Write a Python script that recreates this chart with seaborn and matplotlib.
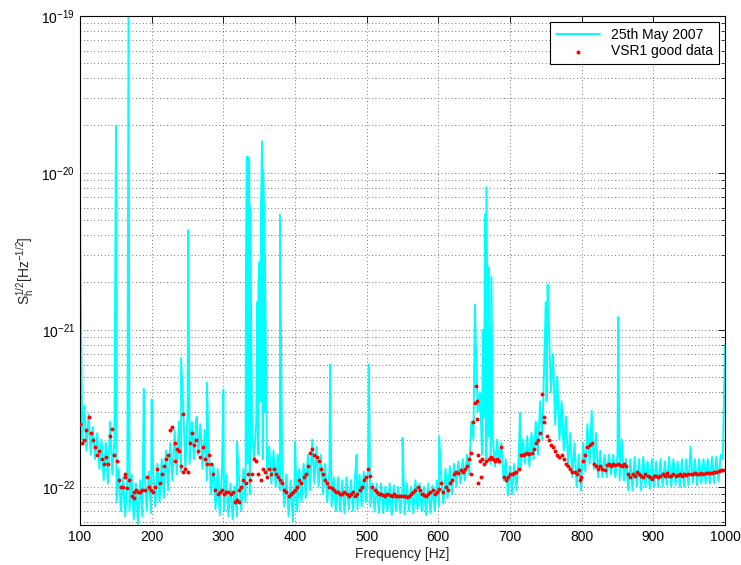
import numpy as np
import pandas as pd
import matplotlib
matplotlib.use("Agg")
import matplotlib.pyplot as plt
import matplotlib.ticker as mticker
import seaborn as sns


SCALE = 1e-22

# sampling grid of the spectrum (Hz), every 3 Hz
FREQ = np.arange(100, 1001, 3)

# 25th May 2007 spectrum, in units of 1e-22 /sqrt(Hz) (one row = 30 Hz)
CYAN_VALUES = [
    58, 2.0, 3.3, 1.7, 2.9, 1.6, 2.4, 1.5, 2.2, 1.3,
    2.0, 1.1, 1.9, 1.05, 2.6, 1.2, 2.0, 0.8, 1.3, 0.7,
    1.15, 0.65, 1.1, 0.7, 1.2, 0.62, 1.05, 0.58, 1.1, 0.65,
    1.3, 0.7, 1.25, 0.68, 1.3, 0.75, 1.4, 0.8, 1.5, 0.85,
    1.7, 0.95, 1.9, 1.1, 2.3, 1.2, 2.6, 1.25, 3.2, 1.3,
    2.8, 1.4, 2.6, 1.5, 2.7, 1.6, 2.5, 1.3, 2.3, 1.1,
    1.6, 0.9, 1.4, 0.72, 1.3, 0.66, 1.25, 0.7, 1.2, 0.65,
    1.05, 0.62, 1.0, 0.65, 1.1, 0.7, 1.3, 0.8, 1.4, 0.9,
    2.3, 1.5, 2.6, 1.6, 3.5, 1.5, 3.0, 1.2, 1.8, 1.05,
    1.7, 1.0, 1.6, 0.95, 1.4, 0.75, 1.2, 0.65, 1.1, 0.6,
    1.3, 0.7, 1.3, 0.8, 1.4, 0.85, 1.6, 0.95, 2.0, 1.05,
    1.8, 1.0, 1.6, 0.9, 1.4, 0.8, 1.25, 0.75, 1.15, 0.7,
    1.15, 0.7, 1.1, 0.68, 1.15, 0.72, 1.1, 0.7, 1.2, 0.72,
    1.2, 0.75, 1.25, 0.8, 1.3, 0.75, 1.05, 0.7, 1.05, 0.68,
    1.05, 0.68, 1.0, 0.7, 1.05, 0.66, 1.02, 0.7, 1.0, 0.68,
    1.0, 0.67, 1.05, 0.7, 1.0, 0.68, 1.1, 0.72, 1.05, 0.7,
    1.0, 0.66, 1.05, 0.68, 1.02, 0.7, 1.1, 0.75, 1.15, 0.78,
    1.3, 0.85, 1.35, 0.9, 1.4, 1.0, 1.45, 1.05, 1.5, 1.1,
    1.6, 1.2, 2.6, 2.0, 9.0, 3.0, 4.0, 1.6, 2.8, 1.5,
    2.1, 1.4, 2.0, 1.35, 2.0, 1.4, 1.9, 1.1, 1.5, 0.88,
    1.35, 0.9, 1.4, 0.95, 1.5, 1.3, 2.0, 1.4, 2.1, 1.35,
    2.2, 1.5, 2.6, 1.6, 3.5, 2.0, 7.0, 3.5, 12.0, 4.0,
    7.0, 2.5, 5.0, 2.0, 3.5, 1.7, 2.8, 1.4, 2.2, 1.15,
    1.9, 1.0, 1.6, 0.95, 1.9, 1.25, 2.5, 1.4, 3.0, 1.3,
    2.2, 1.15, 1.7, 1.15, 1.6, 1.15, 1.6, 1.2, 1.6, 1.15,
    1.6, 1.1, 2.0, 1.1, 1.5, 0.95, 1.5, 0.95, 1.55, 1.0,
    1.5, 0.95, 1.55, 1.0, 1.45, 0.97, 1.5, 1.0, 1.45, 1.0,
    1.5, 1.0, 1.45, 1.02, 1.55, 1.0, 1.5, 1.03, 1.45, 1.0,
    1.5, 1.0, 1.5, 1.02, 1.8, 1.05, 1.5, 1.02, 1.5, 1.05,
    1.5, 1.05, 1.5, 1.05, 1.55, 1.05, 1.55, 1.08, 1.6, 1.5,
    8.0,
]

# narrow lines sticking out of the spectrum
SPIKE_FREQ = [150.2, 167.7, 189, 200, 241, 251, 263, 277, 300, 319,
              331.5, 332.6, 333.5, 334.5, 336, 337.5, 347, 349, 350.5, 352.5,
              354, 355.5, 356.7, 358, 379, 400, 449, 486, 503, 550,
              601, 651, 662, 665, 667, 670, 674, 714, 750, 752.5,
              814, 851]
SPIKE_VALUES = [200, 1100, 4.2, 3.6, 6.6, 43, 2.8, 4.6, 4.1, 1.95,
                25, 120, 127, 90, 124, 61, 15, 20, 27, 60,
                158, 104, 60, 30, 54, 1.95, 6.0, 1.6, 6.0, 2.05,
                2.1, 14.4, 10, 54, 81, 25, 21.8, 2.95, 15, 19.4,
                3.05, 12]

# VSR1 good data, same units, 100-997 Hz every 3 Hz
RED_FREQ = np.arange(100, 1000, 3)
RED_VALUES = [
    2.5, 1.9, 2.0, 2.3, 2.8, 2.2, 2.0, 1.8, 1.6, 1.7,
    1.5, 1.4, 1.55, 1.4, 2.1, 2.35, 1.6, 1.45, 1.1, 1.0,
    1.0, 1.15, 0.98, 1.1, 0.88, 0.92, 0.95, 0.93, 0.92, 0.96,
    0.95, 1.15, 1.0, 0.96, 0.93, 1.0, 1.3, 1.05, 1.2, 1.35,
    1.5, 1.6, 2.3, 2.4, 1.9, 1.75, 1.7, 1.35, 2.9, 1.3,
    1.25, 1.9, 2.2, 1.85, 2.0, 1.7, 1.55, 1.8, 1.5, 1.4,
    1.6, 1.4, 1.2, 0.95, 0.9, 0.92, 0.95, 0.9, 0.93, 0.92,
    0.9, 0.92, 0.8, 0.82, 0.95, 1.0, 1.1, 1.05, 1.2, 1.1,
    1.2, 1.5, 1.45, 1.2, 1.1, 1.3, 1.25, 1.15, 1.3, 1.2,
    1.3, 1.2, 1.15, 1.1, 1.05, 0.95, 0.92, 0.88, 0.9, 0.92,
    0.95, 1.0, 1.1, 1.05, 1.15, 1.2, 1.35, 1.65, 1.75, 1.6,
    1.55, 1.45, 1.3, 1.2, 1.1, 1.05, 1.0, 0.98, 0.95, 0.93,
    0.92, 0.9, 0.9, 0.93, 0.9, 0.88, 0.9, 0.92, 0.88, 0.9,
    0.95, 1.0, 1.1, 1.15, 1.3, 1.18, 1.0, 0.95, 0.92, 0.9,
    0.9, 0.89, 0.88, 0.9, 0.89, 0.88, 0.9, 0.88, 0.87, 0.88,
    0.88, 0.87, 0.86, 0.88, 0.9, 0.92, 0.96, 1.0, 0.95, 0.9,
    0.89, 0.88, 0.9, 0.92, 0.95, 0.9, 0.93, 0.97, 1.05, 0.92,
    1.0, 0.95, 1.05, 1.1, 1.2, 1.25, 1.22, 1.28, 1.25, 1.3,
    1.35, 1.5, 1.65, 2.6, 4.4, 1.6, 1.45, 1.5, 1.4, 1.45,
    1.5, 1.55, 1.5, 1.45, 1.5, 1.45, 1.8, 1.15, 1.1, 1.15,
    1.2, 1.2, 1.22, 1.25, 1.3, 1.6, 1.6, 1.62, 1.65, 1.62,
    1.65, 1.75, 1.9, 2.0, 2.2, 3.9, 2.6, 2.1, 2.0, 1.85,
    1.8, 1.7, 1.6, 1.55, 1.6, 1.5, 1.4, 1.35, 1.3, 1.25,
    1.25, 1.2, 1.28, 1.15, 1.45, 1.6, 1.8, 1.85, 1.9, 1.4,
    1.35, 1.3, 1.35, 1.3, 1.28, 1.38, 1.4, 1.35, 1.4, 1.38,
    1.4, 1.38, 1.35, 1.4, 1.35, 1.2, 1.15, 1.2, 1.18, 1.25,
    1.2, 1.18, 1.15, 1.2, 1.18, 1.15, 1.12, 1.17, 1.18, 1.16,
    1.17, 1.2, 1.18, 1.22, 1.17, 1.18, 1.2, 1.18, 1.19, 1.2,
    1.18, 1.2, 1.19, 1.2, 1.21, 1.2, 1.22, 1.2, 1.21, 1.22,
    1.21, 1.22, 1.22, 1.23, 1.22, 1.24, 1.25, 1.26, 1.27, 1.28,
]

# scattered extra points off the main red trend
RED_EXTRA_FREQ = [163, 176, 233, 243, 322, 645, 650.5, 653.5, 654.5, 656, 659, 747, 798]
RED_EXTRA_VALUES = [1.2, 0.85, 1.45, 1.25, 0.8, 1.2, 3.4, 3.5, 2.7, 1.05, 1.15, 2.8, 1.1]

X_TICKS = [100, 200, 300, 400, 500, 600, 700, 800, 900, 1000]
Y_TICKS = [1e-22, 1e-21, 1e-20, 1e-19]
Y_LIMITS = (5.72e-23, 1e-19)


def main():
    sns.set_theme(style="white", rc={"axes.edgecolor": "black", "xtick.color": "black",
                                     "ytick.color": "black", "text.color": "black"})
    plt.rcParams["font.family"] = ["Liberation Sans", "DejaVu Sans"]
    plt.rcParams["mathtext.default"] = "regular"

    spectrum = pd.DataFrame({
        "freq": np.concatenate([FREQ, SPIKE_FREQ]),
        "asd": np.concatenate([CYAN_VALUES, SPIKE_VALUES]) * SCALE,
    }).sort_values("freq")
    good = pd.DataFrame({
        "freq": np.concatenate([RED_FREQ, RED_EXTRA_FREQ]),
        "asd": np.concatenate([RED_VALUES, RED_EXTRA_VALUES]) * SCALE,
    })

    fig = plt.figure(figsize=(7.41, 5.65), dpi=100)
    ax = fig.add_axes([0.108, 0.071, 0.8704, 0.9012])

    sns.lineplot(data=spectrum, x="freq", y="asd", color=(0, 1, 1), lw=1.4,
                 estimator=None, sort=True, label="25th May 2007", ax=ax)
    sns.scatterplot(data=good, x="freq", y="asd", color=(1, 0, 0), s=8,
                    linewidth=0, label="VSR1 good data", ax=ax, zorder=3)

    ax.set_yscale("log")
    ax.set_xlim(100, 1000)
    ax.set_ylim(*Y_LIMITS)
    ax.set_xticks(X_TICKS)
    ax.set_yticks(Y_TICKS)
    # minor ticks 2..9 x each decade, only those inside the view
    minor = [m * d for d in [1e-23, 1e-22, 1e-21, 1e-20] for m in range(2, 10)]
    minor = [t for t in minor if Y_LIMITS[0] <= t <= Y_LIMITS[1]]
    ax.set_yticks(minor, minor=True)
    ax.yaxis.set_minor_formatter(mticker.NullFormatter())
    ax.set_xlabel("Frequency [Hz]", fontsize=10, labelpad=2)
    ax.set_ylabel("S$_h^{1/2}$[Hz$^{-1/2}$]", fontsize=10, labelpad=4)

    ax.tick_params(which="both", direction="in", top=True, right=True, labelsize=10)
    ax.tick_params(which="major", length=5, width=0.6)
    ax.tick_params(which="minor", length=3, width=0.5)
    ax.grid(True, which="major", linestyle=(0, (1, 4)), color="black", lw=0.5)
    ax.grid(True, which="minor", axis="y", linestyle=(0, (1, 4)), color="black", lw=0.5)
    for spine in ax.spines.values():
        spine.set_linewidth(0.8)
        spine.set_color("black")

    leg = ax.legend(loc="upper right", fontsize=10, fancybox=False, framealpha=1,
                    edgecolor="black", handlelength=3.2, borderaxespad=0.45,
                    labelspacing=0.2, markerscale=1.0)
    leg.get_frame().set_linewidth(0.8)

    fig.savefig("out.png", dpi=100)
    plt.close(fig)


if __name__ == "__main__":
    main()
